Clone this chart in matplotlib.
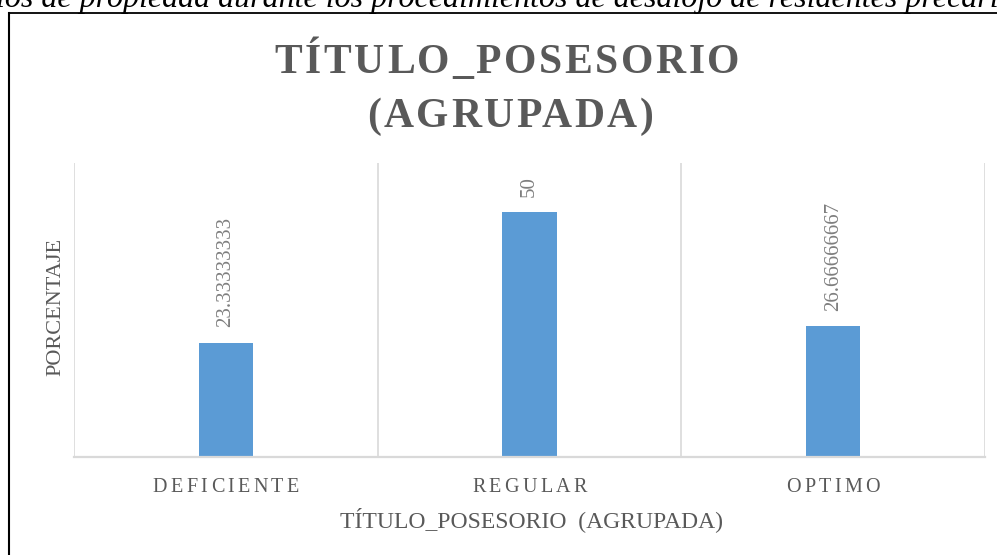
import matplotlib
matplotlib.use("Agg")
import matplotlib.pyplot as plt
from matplotlib.font_manager import FontProperties
from matplotlib.textpath import TextToPath
from matplotlib.lines import Line2D

# ---- data ----
categories = ["DEFICIENTE", "REGULAR", "OPTIMO"]
values = [23.33333333, 50, 26.66666667]
value_labels = ["23.33333333", "50", "26.66666667"]
title_lines = ["TÍTULO_POSESORIO", "(AGRUPADA)"]
x_title = "TÍTULO_POSESORIO  (AGRUPADA)"
y_title = "PORCENTAJE"
caption = "ios de propiedad durante los procedimientos de desalojo de residentes precarios"

W, H, DPI = 997, 555, 100
fig = plt.figure(figsize=(W / DPI, H / DPI), dpi=DPI)
fig.patch.set_facecolor("white")

SERIF = "Liberation Serif"
GRAY = "#595959"
GRID = "#d9d9d9"
BAR = "#5B9BD5"

# plot area in pixels
L, R, T, B = 74, 985, 163, 457
ax = fig.add_axes([L / W, 1 - B / H, (R - L) / W, (B - T) / H])
xs = list(range(len(categories)))
ax.bar(xs, values, width=0.18, color=BAR, zorder=3)
ax.set_xlim(-0.5, len(categories) - 0.5)
ax.set_ylim(0, 60)
for s in ax.spines.values():
    s.set_visible(False)
ax.set_xticks([i - 0.5 for i in range(len(categories) + 1)])
ax.tick_params(axis="both", length=0, labelbottom=False, labelleft=False)
ax.set_yticks([])
ax.grid(axis="x", color=GRID, linewidth=1.2, zorder=0)
ax.axhline(0, color=GRID, linewidth=1.6, zorder=4, clip_on=False)

for i, (v, lab) in enumerate(zip(values, value_labels)):
    ax.annotate(lab, (i, v), xytext=(0, 11), textcoords="offset points",
                rotation=90, ha="center", va="bottom", color="#7f7f7f",
                fontsize=15, family=SERIF)

ttp = TextToPath()


def tw(s, prop):
    if not s:
        return 0.0
    w, h, d = ttp.get_text_width_height_descent(s, prop, ismath=False)
    return w * DPI / 72.0


def spaced(xc, ybase, s, prop, sp, color):
    total = tw(s, prop) + sp * (len(s) - 1)
    x0 = xc - total / 2
    for i, c in enumerate(s):
        off = tw(s[:i + 1], prop) - tw(c, prop) + i * sp
        fig.text((x0 + off) / W, 1 - ybase / H, c, fontproperties=prop,
                 color=color, ha="left", va="baseline")


# title
tprop = FontProperties(family=SERIF, weight="bold", size=30)
spaced(507, 73, title_lines[0], tprop, 2.6, GRAY)
spaced(510, 127, title_lines[1], tprop, 2.6, GRAY)

# category labels
cprop = FontProperties(family=SERIF, size=14.5)
for i, c in enumerate(categories):
    xd, _ = ax.transData.transform((i, 0))
    spaced(xd, 492, c, cprop, 3.3, GRAY)

# axis titles
fig.text(531 / W, 1 - 527 / H, x_title, family=SERIF, fontsize=17,
         color=GRAY, ha="center", va="baseline")
fig.text(56 / W, 1 - 307 / H, y_title, family=SERIF, fontsize=16,
         color=GRAY, ha="center", va="center", rotation=90)

# caption above the box (cut off)
fig.text(-4 / W, 1 - 7 / H, caption, family=SERIF, style="italic",
         fontsize=23, color="black", ha="left", va="baseline")

# chart box border (top and left visible)
fig.add_artist(Line2D([8.5 / W, 1.01], [1 - 12.5 / H, 1 - 12.5 / H],
                      transform=fig.transFigure, color="black", linewidth=1.3))
fig.add_artist(Line2D([9 / W, 9 / W], [1 - 12.5 / H, -0.01],
                      transform=fig.transFigure, color="black", linewidth=1.5))

fig.savefig("out.png", dpi=DPI, facecolor="white")
